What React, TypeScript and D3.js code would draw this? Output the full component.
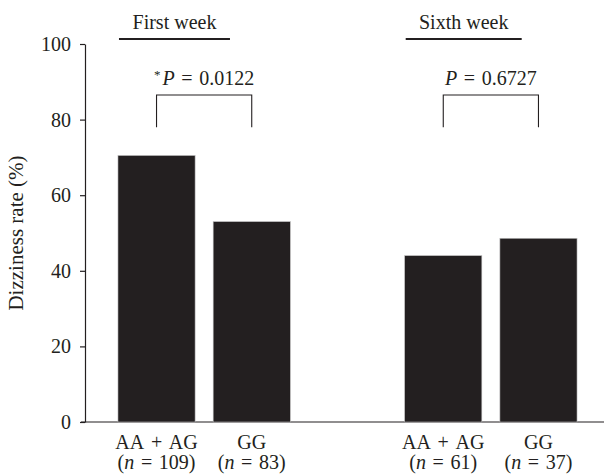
import React, { useEffect, useRef } from 'react';
import { select, scaleBand, scaleLinear, axisLeft } from 'd3';

const weeks = ['First week', 'Sixth week'];
const genotypes = ['AA + AG', 'GG'];
const counts = [[109, 83], [61, 37]];
const rates = [[70.5, 53.0], [44.0, 48.6]];
const pLabels = ['0.0122', '0.6727'];
const significant = [true, false];
const yTicks = [0, 20, 40, 60, 80, 100];

const W = 604;
const H = 476;
const FONT = '"Liberation Serif", "DejaVu Serif", serif';
const INK = '#231f20';
const FS = 20;

// slightly wider spaces around + and =, like the original typesetting
const wide = (s: string) => s.replace(/ /g, '\u2004');

function App() {
    const ref = useRef<SVGSVGElement>(null);

    const y = scaleLinear().domain([0, 100]).range([422, 44]);
    const x0 = scaleBand().domain(weeks).range([85, 610]).paddingInner(0.399).paddingOuter(0.115);
    const x1 = scaleBand().domain(genotypes).range([0, x0.bandwidth()]).paddingInner(0.19);

    useEffect(() => {
        const svg = select(ref.current);
        svg.select<SVGGElement>('.y-axis')
            .call(axisLeft(y).tickValues(yTicks).tickSize(5).tickSizeOuter(0).tickPadding(9))
            .call(g => g.select('.domain').attr('stroke', INK).attr('stroke-width', 1.2))
            .call(g => g.selectAll('.tick line').attr('stroke', INK).attr('stroke-width', 1.2))
            .call(g => g.selectAll('.tick text')
                .attr('fill', INK)
                .style('font-family', FONT)
                .style('font-size', FS + 'px'));
    }, []);

    return (
        <svg ref={ref} width={W} height={H}
            style={{ position: 'absolute', left: 0, top: 0, background: '#fff' }}>
            {/* x baseline */}
            <line x1={81} x2={W} y1={y(0)} y2={y(0)} stroke={INK} strokeWidth={1.2} />
            <g className="y-axis" transform="translate(85,0)" />

            <text transform={`translate(23,${y(50)}) rotate(-90)`} textAnchor="middle"
                fontFamily={FONT} fontSize={21} fill={INK}>Dizziness rate (%)</text>

            {weeks.map((w, i) => {
                const gx = x0(w) ?? 0;
                const cx = genotypes.map(g => gx + (x1(g) ?? 0) + x1.bandwidth() / 2);
                const ul0 = gx + 1;
                const ul1 = gx + 112 + i * 5;
                return (
                    <g key={w}>
                        {/* header */}
                        <text x={(ul0 + ul1) / 2} y={29} textAnchor="middle"
                            fontFamily={FONT} fontSize={FS} fill={INK}>{w}</text>
                        <line x1={ul0} x2={ul1} y1={39} y2={39} stroke={INK} strokeWidth={2} />

                        {/* bars */}
                        {genotypes.map((g, j) => (
                            <rect key={g} x={gx + (x1(g) ?? 0)} y={y(rates[i][j])}
                                width={x1.bandwidth()} height={y(0) - y(rates[i][j])}
                                fill={INK} stroke="#bbb" strokeWidth={0.6} />
                        ))}

                        {/* bracket */}
                        <path d={`M${cx[0]},${y(78)}V${y(86.5)}H${cx[1]}V${y(78)}`}
                            fill="none" stroke={INK} strokeWidth={1.1} />
                        <text x={(cx[0] + cx[1]) / 2} y={85} textAnchor="middle"
                            fontFamily={FONT} fontSize={FS} fill={INK}>
                            {significant[i] && <tspan fontSize={13} dy={-6}>*</tspan>}
                            <tspan fontStyle="italic" dy={significant[i] ? 6 : 0} dx={significant[i] ? 2 : 0}>P</tspan>
                            <tspan>{wide(' = ')}{pLabels[i]}</tspan>
                        </text>

                        {/* category labels */}
                        {genotypes.map((g, j) => (
                            <g key={g} fontFamily={FONT} fontSize={FS} fill={INK} textAnchor="middle">
                                <text x={cx[j]} y={449}>{wide(g)}</text>
                                <text x={cx[j]} y={469}>
                                    (<tspan fontStyle="italic">n</tspan>{wide(' = ')}{counts[i][j]})
                                </text>
                            </g>
                        ))}
                    </g>
                );
            })}
        </svg>
    );
}

export default App;
